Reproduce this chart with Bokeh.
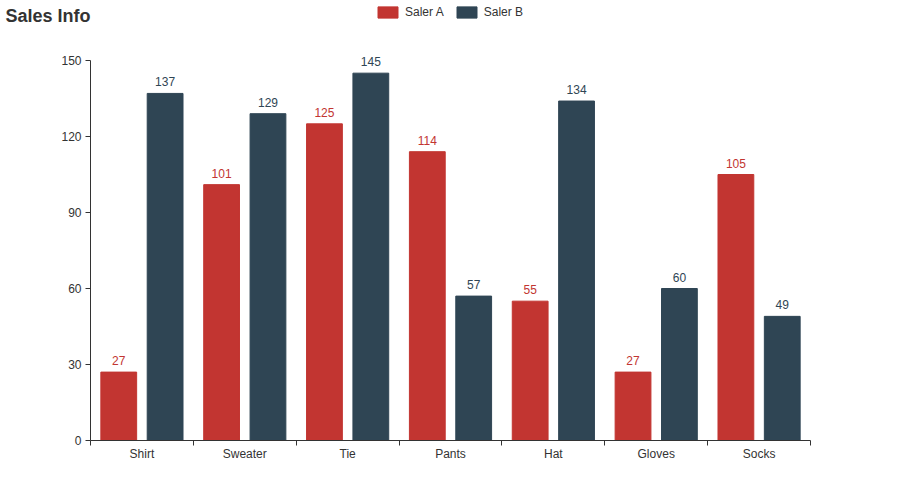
from bokeh.plotting import figure
from bokeh.models import ColumnDataSource, FixedTicker, Legend, LegendItem, Range1d
from bokeh.core.properties import value
from bokeh.embed import file_html
from bokeh.resources import INLINE

categories = ["Shirt", "Sweater", "Tie", "Pants", "Hat", "Gloves", "Socks"]
saler_a = [27, 101, 125, 114, 55, 27, 105]
saler_b = [137, 129, 145, 57, 134, 60, 49]
y_ticks = [0, 30, 60, 90, 120, 150]

RED = "#c23531"
DARK = "#2f4554"
FONT = "Liberation Sans"

n = len(categories)
bw = 0.348
off = 0.2254
xa = [i + 0.5 - off for i in range(n)]
xb = [i + 0.5 + off for i in range(n)]

src_a = ColumnDataSource(dict(x=xa, top=saler_a, lab=[str(v) for v in saler_a]))
src_b = ColumnDataSource(dict(x=xb, top=saler_b, lab=[str(v) for v in saler_b]))

# frame spans from canvas top (y=0) to y=440; value 150 sits at y=60
y_max = 150
y_end = y_max * 440 / 380

p = figure(width=900, height=500, output_backend="svg", toolbar_location=None,
           x_range=Range1d(0, n), y_range=Range1d(0, y_end),
           min_border_left=90, min_border_right=90, min_border_top=0, min_border_bottom=60,
           title="Sales Info")
p.outline_line_color = None
p.xgrid.visible = False
p.ygrid.visible = False

p.title.text_font = FONT
p.title.text_font_size = "18px"
p.title.text_font_style = "bold"
p.title.text_color = "#333333"
p.title.offset = -85
p.title.standoff = -50

ra = p.vbar(x="x", top="top", width=bw, source=src_a, color=RED)
rb = p.vbar(x="x", top="top", width=bw, source=src_b, color=DARK)

p.text(x="x", y="top", text="lab", source=src_a, text_align="center", text_baseline="bottom",
       y_offset=-7, text_color=RED, text_font=value(FONT), text_font_size="12px")
p.text(x="x", y="top", text="lab", source=src_b, text_align="center", text_baseline="bottom",
       y_offset=-7, text_color=DARK, text_font=value(FONT), text_font_size="12px")

xticker = FixedTicker(ticks=[i + 0.5 for i in range(n)], minor_ticks=list(range(n + 1)))
p.xaxis.ticker = xticker
p.xaxis.major_label_overrides = {i + 0.5: c for i, c in enumerate(categories)}
p.xaxis.major_tick_out = 0
p.xaxis.major_tick_in = 0
p.xaxis.minor_tick_out = 5
p.xaxis.minor_tick_in = 0
p.xaxis.minor_tick_line_color = "#333333"
p.xaxis.axis_line_color = "#333333"
p.xaxis.major_label_standoff = 1
p.xaxis.major_label_text_font = FONT
p.xaxis.major_label_text_font_size = "12px"
p.xaxis.major_label_text_color = "#333333"

p.yaxis.ticker = FixedTicker(ticks=y_ticks)
p.yaxis.bounds = (0, y_max)
p.yaxis.major_tick_out = 5
p.yaxis.major_tick_in = 0
p.yaxis.minor_tick_line_color = None
p.yaxis.axis_line_color = "#333333"
p.yaxis.major_tick_line_color = "#333333"
p.yaxis.major_label_standoff = 4
p.yaxis.major_label_text_font = FONT
p.yaxis.major_label_text_font_size = "12px"
p.yaxis.major_label_text_color = "#333333"

legend = Legend(items=[LegendItem(label="Saler A", renderers=[ra]),
                       LegendItem(label="Saler B", renderers=[rb])],
                orientation="horizontal", location=(285, 421),
                glyph_width=25, glyph_height=14, label_height=14, label_text_font=FONT,
                label_text_font_size="12px", label_text_color="#333333",
                label_text_baseline="middle",
                background_fill_alpha=0, border_line_color=None,
                padding=0, spacing=10, label_standoff=5, margin=0)
p.add_layout(legend, "center")

open("out.html", "w").write(file_html(p, INLINE))
